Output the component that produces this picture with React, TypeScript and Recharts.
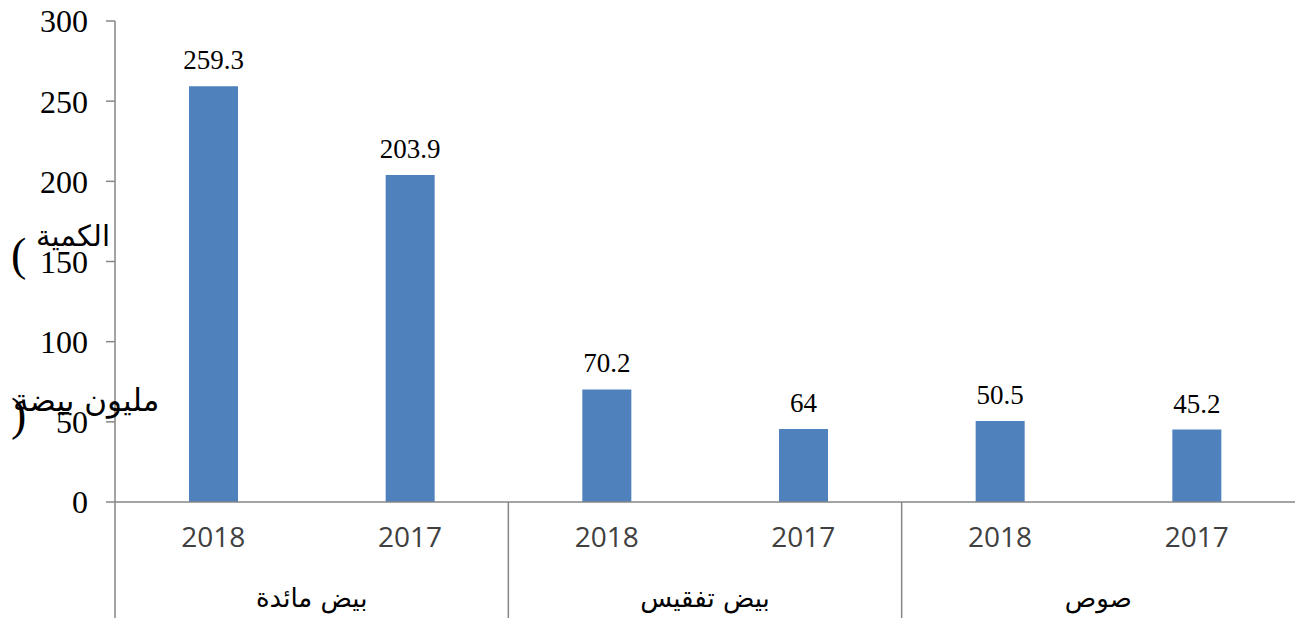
import { BarChart, Bar, XAxis, YAxis, LabelList } from 'recharts';

const groups = ['بيض مائدة', 'بيض تفقيس', 'صوص'];
const years = ['2018', '2017'];
// bar heights as drawn, per group then per year
const values = [259.3, 203.9, 70.2, 45.5, 50.5, 45.2];
// value labels as printed above the bars
const valueLabels = ['259.3', '203.9', '70.2', '64', '50.5', '45.2'];
const yTicks = [0, 50, 100, 150, 200, 250, 300];

const data = groups.flatMap((g, gi) =>
    years.map((y, yi) => ({
        group: g,
        year: y,
        first: yi === 0,
        value: values[gi * years.length + yi],
        label: valueLabels[gi * years.length + yi],
    }))
);

const AXIS = '#868686';

const YearTick = (props: any) => {
    const { x, y, payload, index } = props;
    const half = payload?.offset ?? 98.3;
    const row = data[index];
    return (
        <g>
            <text x={x} y={y + 35} dy="0.355em" textAnchor="middle"
                fontFamily="'Open Sans', sans-serif" fontSize={28} fill="#404040">
                {payload.value}
            </text>
            {row && row.first && (
                <>
                    <line x1={x - half} y1={y} x2={x - half} y2={y + 116} stroke={AXIS} strokeWidth={1.5} />
                    <text x={x + half} y={y + 96} dy="0.355em" textAnchor="middle"
                        fontFamily="'DejaVu Sans', sans-serif" fontSize={26} fill="#000">
                        {row.group}
                    </text>
                </>
            )}
        </g>
    );
};

const ValueLabel = (props: any) => {
    const { x, y, width, value } = props;
    return (
        <text x={x + width / 2} y={y - 17} textAnchor="middle"
            fontFamily="'Liberation Serif', 'Times New Roman', serif" fontSize={27} fill="#000">
            {value}
        </text>
    );
};

const App = () => {
    return (
        <div style={{ position: 'absolute', left: 0, top: 0, width: 1295, height: 621, background: '#fff' }}>
            <BarChart
                width={1295}
                height={621}
                data={data}
                margin={{ top: 21, right: 0, left: 0, bottom: 0 }}
            >
                <XAxis dataKey="year" height={119} interval={0}
                    axisLine={{ stroke: AXIS, strokeWidth: 1.5 }} tickLine={false}
                    tickSize={0} tickMargin={0} tick={<YearTick />} />
                <YAxis domain={[0, 300]} ticks={yTicks} width={115} interval={0}
                    axisLine={{ stroke: AXIS, strokeWidth: 1.5 }}
                    tickLine={{ stroke: AXIS, strokeWidth: 1.5 }} tickSize={9} tickMargin={18}
                    tick={{ fontFamily: "'Liberation Serif', 'Times New Roman', serif", fontSize: 32, fill: '#000' }} />
                <Bar dataKey="value" fill="#4F81BD" barSize={49} isAnimationActive={false}>
                    <LabelList dataKey="label" content={<ValueLabel />} />
                </Bar>
            </BarChart>
            <div style={{ position: 'absolute', left: 36, top: 222, fontFamily: "'DejaVu Sans', serif", fontSize: 29, color: '#000', direction: 'rtl', lineHeight: 1 }}>
                الكمية
            </div>
            <div style={{ position: 'absolute', left: 11, top: 232, fontFamily: "'Liberation Serif', serif", fontSize: 46, color: '#000', lineHeight: 1 }}>
                (
            </div>
            <div style={{ position: 'absolute', left: 13, top: 385, fontFamily: "'DejaVu Sans', serif", fontSize: 31, color: '#000', direction: 'rtl', lineHeight: 1, whiteSpace: 'nowrap' }}>
                مليون بيضة
            </div>
            <div style={{ position: 'absolute', left: 11, top: 392, fontFamily: "'Liberation Serif', serif", fontSize: 46, color: '#000', lineHeight: 1 }}>
                )
            </div>
        </div>
    );
};

export default App;
